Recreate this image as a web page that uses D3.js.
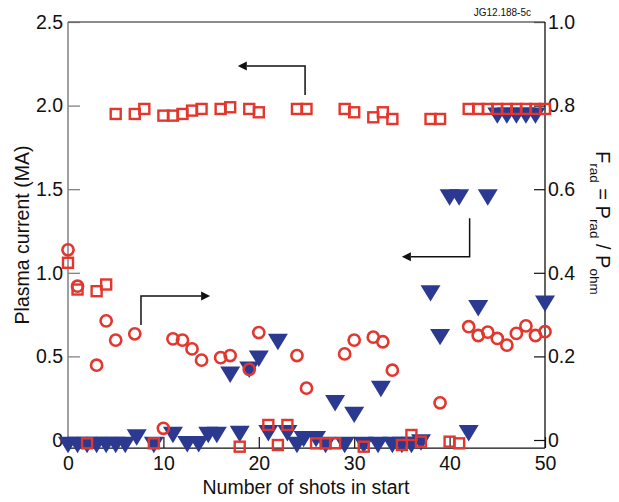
<!DOCTYPE html>
<html><head><meta charset="utf-8">
<script src="https://cdn.jsdelivr.net/npm/d3@7"></script>
<style>body{margin:0;background:#fff}svg{display:block}text{font-family:"Liberation Sans",Arial,sans-serif}</style>
</head><body>
<svg id="c" width="619" height="502"></svg>
<script>
// ---- data ----
const leftTicks = [0, 0.5, 1.0, 1.5, 2.0, 2.5];
const leftTickLabels = ["0", "0.5", "1.0", "1.5", "2.0", "2.5"];
const rightTicks = [0, 0.2, 0.4, 0.6, 0.8, 1.0];
const rightTickLabels = ["0", "0.2", "0.4", "0.6", "0.8", "1.0"];
const xTicks = [0, 10, 20, 30, 40, 50];

// plasma current (MA) - open squares
const squareShots = [5,7,8,10,11,12,13,14,16,17,19,20,24,25,29,30,32,33,34,38,39,42,43,44,45,46,47,48,49,50,
  0,1,3,4,
  2,9,18,21,22,23,26,27,28,31,35,36,37,40,41];
const squareIp = [1.95,1.95,1.98,1.94,1.94,1.95,1.97,1.98,1.98,1.99,1.98,1.96,1.98,1.98,1.98,1.96,1.93,1.96,1.92,1.92,1.92,1.98,1.98,1.98,1.98,1.98,1.98,1.98,1.98,1.98,
  1.06,0.90,0.89,0.93,
  -0.02,-0.02,-0.04,0.09,-0.03,0.09,-0.02,-0.02,-0.02,-0.04,-0.03,0.03,-0.01,-0.01,-0.02];

// F_rad - open circles (right axis)
const circleShots = [0,1,3,4,5,7,10,11,12,13,14,16,17,19,20,24,25,29,30,32,33,34,39,42,43,44,45,46,47,48,49,50];
const circleFrad = [0.455,0.368,0.179,0.285,0.239,0.254,0.028,0.242,0.239,0.218,0.191,0.197,0.202,0.169,0.257,0.202,0.124,0.206,0.239,0.246,0.235,0.167,0.089,0.271,0.250,0.258,0.243,0.227,0.255,0.273,0.250,0.259];

// filled triangles (left axis)
const triShots = [45,46,47,48,49, 40,41,44, 38,39,43,50,32.8,17,19,20,22,28,30,
  7.2,11,14.7,15.6,18,21,23,24.7,26,42,37,
  0,1,2,3,4,5,6,9,12.5,13.7,24,27,29,31,32.5,34,35,36];
const triVal = [1.94,1.94,1.94,1.94,1.94, 1.45,1.45,1.45, 0.877,0.615,0.788,0.815,0.305,0.39,0.42,0.486,0.586,0.22,0.15,
  0.015,0.03,0.03,0.03,0.036,0.04,0.04,0.005,0.005,0.04,-0.015,
  -0.03,-0.03,-0.03,-0.03,-0.03,-0.03,-0.03,-0.03,-0.025,-0.025,-0.03,-0.03,-0.03,-0.03,-0.03,-0.03,-0.03,-0.03];

// annotation arrows in data units: [x0,y0] -> corner -> tip
const arrows = [
  {pts:[[24.85,2.063],[24.85,2.237],[17.8,2.237]]},
  {pts:[[42.1,1.326],[42.1,1.096],[35.0,1.096]]},
  {pts:[[7.65,0.688],[7.65,0.861],[14.9,0.861]]}
];

// ---- chart ----
const svg = d3.select("#c");
const L = 68, R = 545, T = 22;
const x = d3.scaleLinear().domain([0, 50]).range([L, R]);
const y = d3.scaleLinear().domain([0, 2.5]).range([440, T]);
const yR = d3.scaleLinear().domain([0, 1]).range([440, T]);
const B = y(-0.048);

const red = "#e2372e", blue = "#2b3990";

// axes
const fs = "19.5px";
const gl = svg.append("g").attr("transform", `translate(${L},0)`)
  .call(d3.axisLeft(y).tickValues(leftTicks).tickFormat((d,i)=>leftTickLabels[i]).tickSize(-12).tickPadding(5));
const gr = svg.append("g").attr("transform", `translate(${R},0)`)
  .call(d3.axisRight(yR).tickValues(rightTicks).tickFormat((d,i)=>rightTickLabels[i]).tickSize(-11).tickPadding(3));
const gb = svg.append("g").attr("transform", `translate(0,${B})`)
  .call(d3.axisBottom(x).tickValues(xTicks).tickFormat(d3.format("d")).tickSize(-11).tickPadding(8));
[gl, gr, gb].forEach(g => {
  g.select(".domain").remove();
  g.selectAll("text").style("font-size", fs).attr("fill", "#111");
  g.selectAll("line").attr("stroke", "#111").attr("stroke-width", 1.2);
});
gl.selectAll("line").attr("stroke", "#777");

// frame
svg.append("line").attr("x1", L).attr("x2", L).attr("y1", T).attr("y2", B).attr("stroke", "#888").attr("stroke-width", 1.6);
svg.append("line").attr("x1", L).attr("x2", R).attr("y1", T).attr("y2", T).attr("stroke", "#666").attr("stroke-width", 1.3);
svg.append("line").attr("x1", R).attr("x2", R).attr("y1", T).attr("y2", B).attr("stroke", "#111").attr("stroke-width", 1.3);
svg.append("line").attr("x1", L).attr("x2", R).attr("y1", B).attr("y2", B).attr("stroke", "#111").attr("stroke-width", 1.3);

// triangles
const tw = 10, th = 8.2;
svg.append("g").selectAll("path").data(triShots).join("path")
  .attr("d", (d,i) => {
    const cx = x(d), cy = y(triVal[i]);
    return `M${cx-tw},${cy-th}L${cx+tw},${cy-th}L${cx},${cy+th}Z`;
  })
  .attr("fill", blue);

// circles
svg.append("g").selectAll("circle").data(circleShots).join("circle")
  .attr("cx", d => x(d)).attr("cy", (d,i) => yR(circleFrad[i])).attr("r", 5.6)
  .attr("fill", "none").attr("stroke", red).attr("stroke-width", 2.6);

// squares
const ss = 10;
svg.append("g").selectAll("rect").data(squareShots).join("rect")
  .attr("x", d => x(d) - ss/2).attr("y", (d,i) => y(squareIp[i]) - ss/2)
  .attr("width", ss).attr("height", ss)
  .attr("fill", "none").attr("stroke", red).attr("stroke-width", 2.4);

// arrows
arrows.forEach(a => {
  const p = a.pts.map(q => [x(q[0]), y(q[1])]);
  const tip = p[2], prev = p[1];
  const dir = Math.sign(tip[0] - prev[0]);
  const hl = 9, hw = 4.5;
  svg.append("path")
    .attr("d", `M${p[0][0]},${p[0][1]}L${p[1][0]},${p[1][1]}L${tip[0]-dir*hl},${tip[1]}`)
    .attr("fill", "none").attr("stroke", "#111").attr("stroke-width", 1.5);
  svg.append("path")
    .attr("d", `M${tip[0]},${tip[1]}L${tip[0]-dir*hl},${tip[1]-hw}L${tip[0]-dir*hl},${tip[1]+hw}Z`)
    .attr("fill", "#111");
});

// titles
svg.append("text").attr("transform", `translate(29,${(T+B)/2}) rotate(-90)`)
  .attr("text-anchor", "middle").style("font-size", "19.5px").attr("fill", "#111")
  .text("Plasma current (MA)");
svg.append("text").attr("x", 306).attr("y", 494)
  .attr("text-anchor", "middle").style("font-size", "19.5px").attr("fill", "#111")
  .text("Number of shots in start");
svg.append("text").attr("x", 531).attr("y", 16).attr("text-anchor", "end")
  .style("font-size", "10px").attr("fill", "#111").text("JG12.188-5c");

const rt = svg.append("text").attr("transform", `translate(596,151) rotate(90)`)
  .style("font-size", "20px").attr("fill", "#111");
rt.append("tspan").text("F");
rt.append("tspan").attr("dy", 6).style("font-size", "13.5px").text("rad");
rt.append("tspan").attr("dy", -6).text(" = P");
rt.append("tspan").attr("dy", 6).style("font-size", "13.5px").text("rad");
rt.append("tspan").attr("dy", -6).text(" / P");
rt.append("tspan").attr("dy", 6).style("font-size", "13.5px").text("ohm");
</script>
</body></html>
